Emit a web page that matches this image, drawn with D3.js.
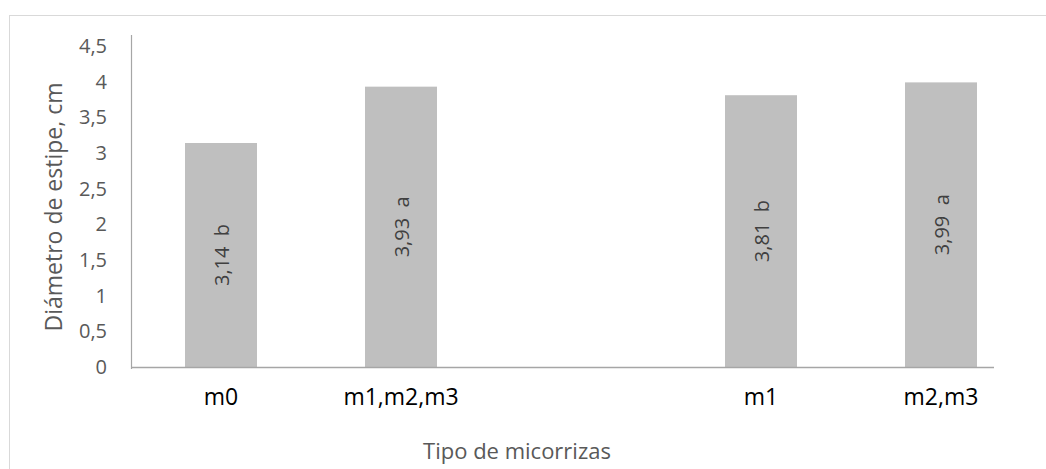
<!DOCTYPE html>
<html>
<head>
<meta charset="utf-8">
<script src="https://cdn.jsdelivr.net/npm/d3@7"></script>
<style>
  html, body { margin: 0; padding: 0; background: #ffffff; }
  svg { display: block; }
  svg text { font-family: "Open Sans", sans-serif; }
</style>
</head>
<body>
<svg id="chart" width="1046" height="469"></svg>
<script>
// Stem diameter by mycorrhiza type
const categories = ["m0", "m1,m2,m3", "", "m1", "m2,m3"];
const values = [3.14, 3.93, null, 3.81, 3.99];
const letters = ["b", "a", "", "b", "a"];
const yTicks = [0, 0.5, 1, 1.5, 2, 2.5, 3, 3.5, 4, 4.5];
const yTitle = "Diámetro de estipe, cm";
const xTitle = "Tipo de micorrizas";

const svg = d3.select("#chart");
const W = 1046, H = 469;
const FONT = "'Open Sans', sans-serif";

// outer chart frame
svg.append("rect")
  .attr("x", 9.5).attr("y", 15.5)
  .attr("width", W + 10).attr("height", H + 10)
  .attr("fill", "#ffffff")
  .attr("stroke", "#d9d9d9").attr("stroke-width", 1);

const plot = { left: 131, right: 1031, top: 46, bottom: 367 };

const x = d3.scaleBand()
  .domain(d3.range(categories.length))
  .range([plot.left, plot.right])
  .paddingInner(0.6)
  .paddingOuter(0.3);

const y = d3.scaleLinear()
  .domain([0, 4.5])
  .range([plot.bottom, plot.top]);

const fmt = v => String(v).replace(".", ",");

// bars
const data = categories.map((c, i) => ({ i, c, v: values[i], l: letters[i] }))
  .filter(d => d.v != null);

svg.append("g").selectAll("rect")
  .data(data)
  .join("rect")
  .attr("x", d => x(d.i))
  .attr("width", x.bandwidth())
  .attr("y", d => y(d.v))
  .attr("height", d => y(0) - y(d.v))
  .attr("fill", "#bfbfbf");

// y axis
const yAxis = d3.axisLeft(y)
  .tickValues(yTicks)
  .tickSize(0)
  .tickPadding(24)
  .tickFormat(fmt);

const gy = svg.append("g")
  .attr("transform", `translate(${plot.left},0)`)
  .call(yAxis)
  .attr("font-family", FONT);
gy.select(".domain").remove();
gy.selectAll("text")
  .attr("fill", "#595959")
  .style("font-size", "20px");

svg.append("line")
  .attr("x1", plot.left + 0.5).attr("x2", plot.left + 0.5)
  .attr("y1", 35).attr("y2", plot.bottom + 2)
  .attr("stroke", "#a6a6a6").attr("stroke-width", 1.2);

// x axis
const xAxis = d3.axisBottom(x)
  .tickSize(0)
  .tickPadding(22)
  .tickFormat(i => categories[i]);

const gx = svg.append("g")
  .attr("transform", `translate(0,${plot.bottom})`)
  .call(xAxis)
  .attr("font-family", FONT);
gx.select(".domain").remove();
gx.selectAll("text")
  .attr("fill", "#000000")
  .style("font-size", "23px");

svg.append("line")
  .attr("x1", plot.left).attr("x2", 994)
  .attr("y1", plot.bottom + 0.5).attr("y2", plot.bottom + 0.5)
  .attr("stroke", "#a6a6a6").attr("stroke-width", 1.5);

// value labels inside bars, rotated
svg.append("g").selectAll("text")
  .data(data)
  .join("text")
  .attr("transform", d => `translate(${x(d.i) + x.bandwidth() / 2 + 8},${(y(d.v) + y(0)) / 2}) rotate(-90)`)
  .attr("text-anchor", "middle")
  .attr("fill", "#404040")
  .style("font-size", "20px")
  .text(d => `${fmt(d.v)}\u00a0\u00a0${d.l}`);

// axis titles
svg.append("text")
  .attr("transform", `translate(62,207) rotate(-90)`)
  .attr("text-anchor", "middle")
  .attr("fill", "#595959")
  .style("font-size", "23px")
  .text(yTitle);

svg.append("text")
  .attr("x", 517).attr("y", 459)
  .attr("text-anchor", "middle")
  .attr("fill", "#595959")
  .style("font-size", "22px")
  .text(xTitle);
</script>
</body>
</html>
